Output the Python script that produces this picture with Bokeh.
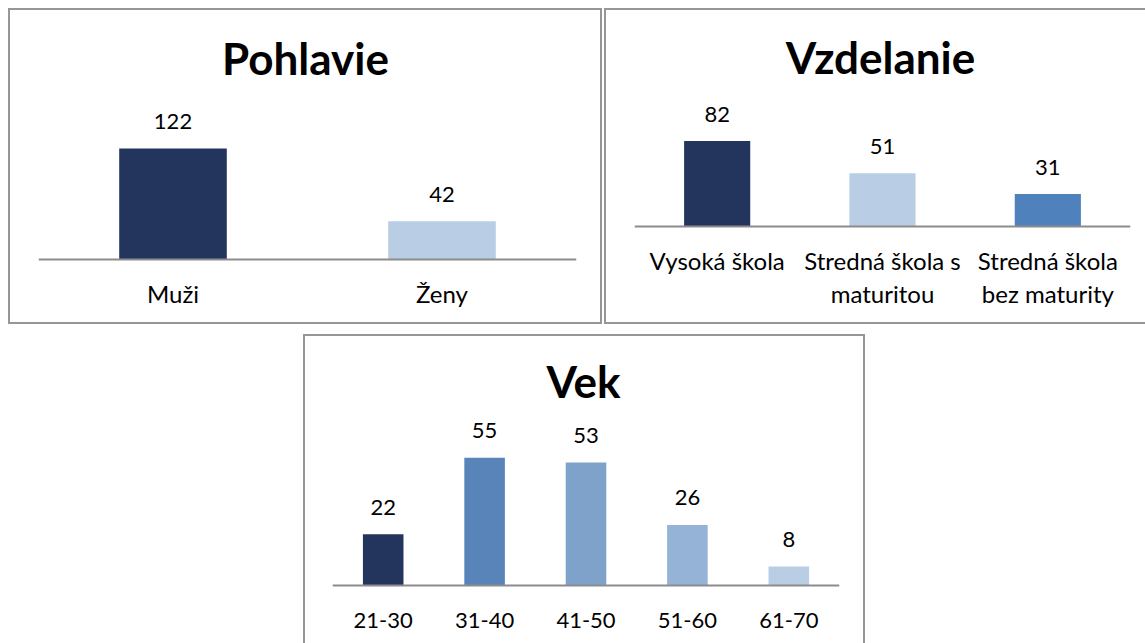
from bokeh.plotting import figure
from bokeh.models import ColumnDataSource, FactorRange, Range1d, Label, Spacer
from bokeh.layouts import row, column
from bokeh.core.properties import value
from bokeh.embed import file_html
from bokeh.resources import INLINE

# ---- data ----
pohlavie_title = "Pohlavie"
pohlavie_cats = ["Muži", "Ženy"]
pohlavie_vals = [122, 42]
pohlavie_colors = ["#23355C", "#B9CDE5"]

vzdelanie_title = "Vzdelanie"
vzdelanie_cats = ["Vysoká škola", "Stredná škola s\nmaturitou", "Stredná škola\nbez maturity"]
vzdelanie_vals = [82, 51, 31]
vzdelanie_colors = ["#23355C", "#B9CDE5", "#4F81BD"]

vek_title = "Vek"
vek_cats = ["21-30", "31-40", "41-50", "51-60", "61-70"]
vek_vals = [22, 55, 53, 26, 8]
vek_colors = ["#23355C", "#5884BA", "#7FA2CB", "#95B3D7", "#B9CDE5"]

FONT = "Lato"
BORDER = "2px solid #969696"


def panel(title, cats, vals, colors, W, H, left, right, axis_y, k,
          title_x, title_y, border, standoff, tick_size, line_height):
    p = figure(width=W, height=H,
               x_range=FactorRange(factors=cats),
               y_range=Range1d(-(H - axis_y) / k, axis_y / k),
               toolbar_location=None, output_backend="svg",
               y_axis_location=None,
               min_border_left=left, min_border_right=right,
               min_border_top=0, min_border_bottom=0,
               outline_line_color=None,
               background_fill_color="white", border_fill_color="white",
               styles=border)
    p.x_range.range_padding = 0
    p.grid.grid_line_color = None

    src = ColumnDataSource(dict(cat=cats, val=vals, color=colors,
                                label=[str(v) for v in vals]))
    p.vbar(x="cat", top="val", bottom=0, width=0.4, color="color",
           line_color=None, source=src)
    p.text(x="cat", y="val", text="label", y_offset=-27,
           text_align="center", text_baseline="middle",
           text_font=value(FONT), text_font_size=value("22px"),
           text_color="black", source=src)

    ax = p.xaxis[0]
    ax.fixed_location = 0
    ax.axis_line_color = "#8C8C8C"
    ax.axis_line_width = 2
    ax.major_tick_line_color = None
    ax.minor_tick_line_color = None
    ax.major_label_standoff = standoff
    ax.major_label_text_font = FONT
    ax.major_label_text_font_size = tick_size
    ax.major_label_text_color = "black"
    ax.major_label_text_line_height = line_height
    ax.major_label_orientation = "horizontal"

    p.add_layout(Label(x=title_x - left, y=H - title_y,
                       x_units="screen", y_units="screen",
                       text=title, text_align="center", text_baseline="middle",
                       text_font=FONT, text_font_style="bold",
                       text_font_size="44px", text_color="black"))
    return p


p1 = panel(pohlavie_title, pohlavie_cats, pohlavie_vals, pohlavie_colors,
           W=590, H=312, left=28, right=28, axis_y=246, k=0.9,
           title_x=295, title_y=43,
           border={"border": BORDER, "box-sizing": "content-box"},
           standoff=13, tick_size="24px", line_height=1.45)

p2 = panel(vzdelanie_title, vzdelanie_cats, vzdelanie_vals, vzdelanie_colors,
           W=539, H=312, left=28, right=17, axis_y=213, k=1.025,
           title_x=274, title_y=42,
           border={"border-top": BORDER, "border-left": BORDER,
                   "border-bottom": BORDER, "box-sizing": "content-box"},
           standoff=14, tick_size="24px", line_height=1.12)

p3 = panel(vek_title, vek_cats, vek_vals, vek_colors,
           W=558, H=307, left=27, right=28, axis_y=247, k=2.3,
           title_x=278, title_y=42,
           border={"border-top": BORDER, "border-left": BORDER,
                   "border-right": BORDER, "box-sizing": "content-box"},
           standoff=22, tick_size="22px", line_height=1.45)

inner = column(row(p1, p2, spacing=2),
               row(Spacer(width=295, height=10), p3),
               spacing=10)
layout = column(Spacer(width=10, height=8),
                row(Spacer(width=8, height=10), inner))

with open("out.html", "w") as f:
    f.write(file_html(layout, INLINE))
